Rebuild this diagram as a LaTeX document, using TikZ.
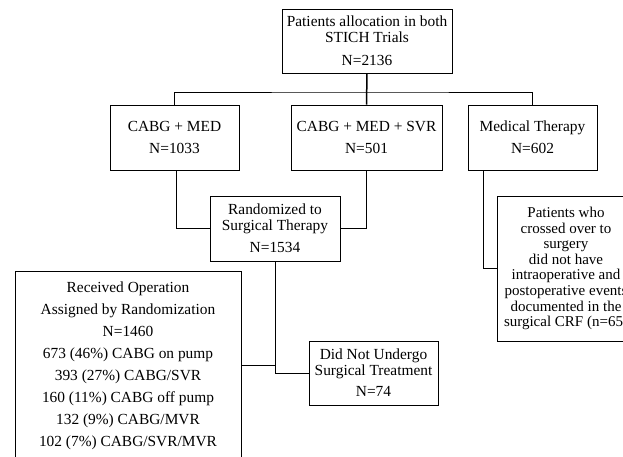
\documentclass[tikz,border=0pt]{standalone}
\usepackage{fontspec}
\setmainfont{Liberation Serif}
\begin{document}
\begin{tikzpicture}[x=1pt,y=-1pt,
  box/.style={draw, line width=0.8pt, inner sep=0pt, align=center,
    font=\fontsize{15.4}{15.5}\selectfont},
  conn/.style={line width=0.8pt},
  trunk/.style={line width=1.5pt}]
\begin{scope}
\clip (0,0) rectangle (623,456);
\node[box, minimum width=170pt, minimum height=64pt] (top) at (367,41)
  {Patients allocation in both\\STICH Trials\\[8pt]N=2136};
\node[box, minimum width=129pt, minimum height=65pt] (cm) at (174.5,137.5)
  {CABG + MED\\[6.5pt]N=1033};
\node[box, minimum width=151pt, minimum height=65pt] (svr) at (366.5,137.5)
  {CABG + MED + SVR\\[6.5pt]N=501};
\node[box, minimum width=129pt, minimum height=65pt] (med) at (532.5,137.5)
  {Medical Therapy\\[6.5pt]N=602};
\node[box, minimum width=130pt, minimum height=65pt] (rand) at (275,228.5)
  {Randomized to\\Surgical Therapy\\[7pt]N=1534};
\node[box, minimum width=138pt, minimum height=145pt,
  font=\fontsize{15}{15.6}\selectfont] (pat) at (566,268.5)
  {Patients who\\crossed over to\\surgery\\did not have\\intraoperative and\\postoperative events\\documented in the\\surgical CRF (n=65)};
\node[box, minimum width=226pt, minimum height=189pt,
  font=\fontsize{15.4}{22}\selectfont] (rec) at (128,365.5)
  {Received Operation\\Assigned by Randomization\\N=1460\\673 (46\%) CABG on pump\\393 (27\%) CABG/SVR\\160 (11\%) CABG off pump\\132 (9\%) CABG/MVR\\102 (7\%) CABG/SVR/MVR};
\node[box, minimum width=129pt, minimum height=64pt] (dn) at (373.5,373)
  {Did Not Undergo\\Surgical Treatment\\[6pt]N=74};
\coordinate (j) at (367,92);
\draw[trunk] (top.south) -- (svr.north);
\draw[conn] (cm.north) |- (j) -| (med.north);
\draw[conn] ([xshift=1.5pt]cm.south) |- (rand.west);
\draw[conn] (svr.south) |- (rand.east);
\draw[conn] ([xshift=16pt]med.south west) |- (pat.west);
\draw[conn] (rand.south) |- (dn.west);
\draw[conn] (rec.east) -- (rec.east -| rand.south);
\end{scope}
\pgfresetboundingbox
\path[use as bounding box] (0,0) rectangle (623,456);
\end{tikzpicture}
\end{document}
